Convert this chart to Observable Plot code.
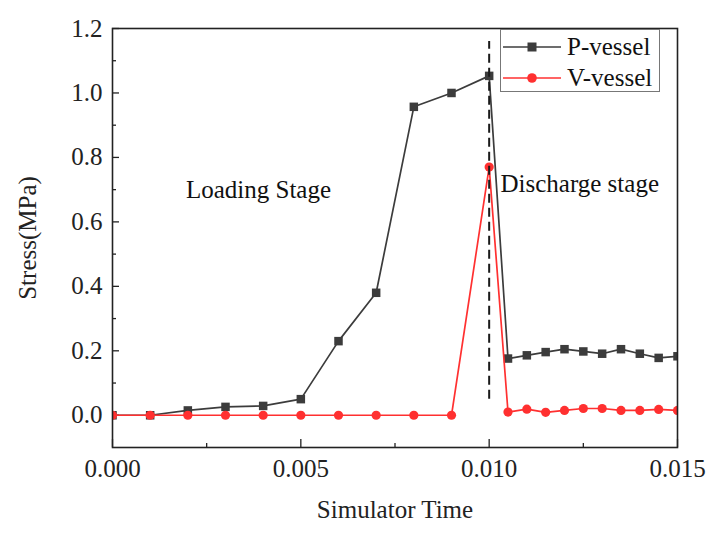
<!DOCTYPE html>
<html>
<head>
<meta charset="utf-8">
<script src="https://cdn.jsdelivr.net/npm/d3@7"></script>
<script src="https://cdn.jsdelivr.net/npm/@observablehq/plot@0.6"></script>
<style>
  body { margin: 0; background: #fff; }
  #wrap { position: relative; width: 714px; height: 536px; font-family: "Liberation Serif", "Times New Roman", serif; }
  #legend { position: absolute; left: 500px; top: 29px; width: 160px; height: 63px; border: 1px solid #777; background: #fff; box-sizing: border-box; }
  .item { position: absolute; left: 2px; height: 30px; display: flex; align-items: center; font-size: 25px; color: #111; }
  .item svg { margin-right: 6px; }
</style>
</head>
<body>
<div id="wrap">
  <div id="chart"></div>
  <div id="legend"></div>
</div>
<script>
// ---- data ----
const times   = [0, 0.001, 0.002, 0.003, 0.004, 0.005, 0.006, 0.007, 0.008, 0.009, 0.010,
                 0.0105, 0.011, 0.0115, 0.012, 0.0125, 0.013, 0.0135, 0.014, 0.0145, 0.015];
const pVessel = [0, 0, 0.015, 0.026, 0.029, 0.05, 0.23, 0.38, 0.957, 1.0, 1.053,
                 0.176, 0.186, 0.196, 0.205, 0.198, 0.191, 0.205, 0.191, 0.178, 0.183];
const vVessel = [0, 0, 0, 0, 0, 0, 0, 0, 0, 0, 0.77,
                 0.01, 0.019, 0.009, 0.015, 0.021, 0.021, 0.015, 0.015, 0.018, 0.015];
const seriesNames = ["P-vessel", "V-vessel"];
const seriesColors = ["#3c3c3c", "#ff3030"];

const xMajorTicks = [0, 0.005, 0.010, 0.015];
const xMinorTicks = [0.0025, 0.0075, 0.0125];
const yMajorTicks = [0, 0.2, 0.4, 0.6, 0.8, 1.0, 1.2];
const yMinorTicks = [0.1, 0.3, 0.5, 0.7, 0.9, 1.1];

const stageBoundary = [0.010];
const boundarySpan = [0.05, 1.16];
const annotations = [
  {t: 0.00195, s: 0.70, label: "Loading Stage"},
  {t: 0.0103, s: 0.716, label: "Discharge stage"}
];

const pData = times.map((t, i) => ({t, s: pVessel[i]}));
const vData = times.map((t, i) => ({t, s: vVessel[i]}));

const chart = Plot.plot({
  width: 714,
  height: 536,
  marginLeft: 112,
  marginRight: 37,
  marginTop: 28,
  marginBottom: 89,
  x: {domain: [0, 0.015], label: null},
  y: {domain: [-0.1, 1.2], label: null},
  style: {fontFamily: "'Liberation Serif', 'Times New Roman', serif", fontSize: "25px", color: "#222", background: "#fff", overflow: "visible"},
  marks: [
    Plot.axisX(xMajorTicks, {tickSize: -8, tickFormat: () => "", label: null, strokeWidth: 1.3}),
    Plot.axisX(xMinorTicks, {tickSize: -4, tickFormat: () => "", label: null, strokeWidth: 1.3}),
    Plot.axisX(xMajorTicks, {tickSize: 0, tickPadding: 12, tickFormat: d3.format(".3f"), fill: "#222",
      label: "Simulator Time", labelAnchor: "center", labelOffset: 70, labelArrow: "none"}),
    Plot.axisY(yMajorTicks, {tickSize: -7, tickFormat: () => "", label: null, strokeWidth: 1.3}),
    Plot.axisY(yMinorTicks, {tickSize: -4, tickFormat: () => "", label: null, strokeWidth: 1.3}),
    Plot.axisY(yMajorTicks, {tickSize: 0, tickPadding: 10, tickFormat: d3.format(".1f"), fill: "#222",
      label: "Stress(MPa)", labelAnchor: "center", labelOffset: 94, labelArrow: "none"}),
    Plot.line(pData, {x: "t", y: "s", stroke: seriesColors[0], strokeWidth: 1.7, clip: "frame"}),
    Plot.dot(pData, {x: "t", y: "s", symbol: "square", r: 4.8, fill: seriesColors[0], clip: "frame"}),
    Plot.line(vData, {x: "t", y: "s", stroke: seriesColors[1], strokeWidth: 1.7, clip: "frame"}),
    Plot.dot(vData, {x: "t", y: "s", symbol: "circle", r: 4.6, fill: seriesColors[1], clip: "frame"}),
    Plot.ruleX(stageBoundary, {y1: boundarySpan[0], y2: boundarySpan[1], stroke: "#1a1a1a", strokeWidth: 2, strokeDasharray: "9,5"}),
    Plot.text(annotations, {x: "t", y: "s", text: "label", textAnchor: "start", lineAnchor: "middle", fill: "#111"}),
    Plot.frame({stroke: "#222", strokeWidth: 1.6})
  ]
});
document.getElementById("chart").appendChild(chart);

// legend
const legend = document.getElementById("legend");
seriesNames.forEach((name, i) => {
  const div = document.createElement("div");
  div.className = "item";
  div.style.top = (2 + i * 31) + "px";
  const marker = i === 0
    ? `<rect x="24.5" y="5.5" width="9" height="9" fill="${seriesColors[i]}"/>`
    : `<circle cx="29" cy="10" r="4.8" fill="${seriesColors[i]}"/>`;
  div.innerHTML = `<svg width="58" height="20"><line x1="0" y1="10" x2="58" y2="10" stroke="${seriesColors[i]}" stroke-width="1.6"/>${marker}</svg><span>${name}</span>`;
  legend.appendChild(div);
});
</script>
</body>
</html>
